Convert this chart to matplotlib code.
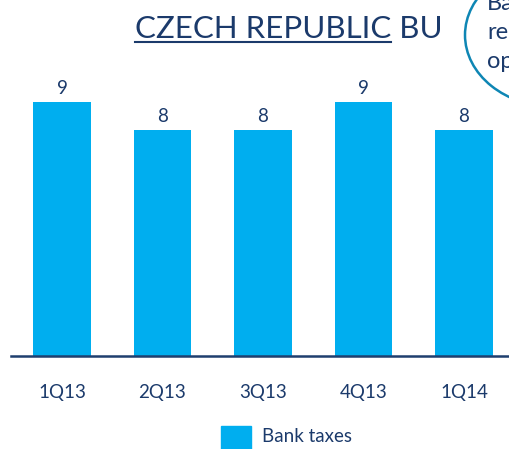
import matplotlib
matplotlib.use("Agg")
import matplotlib.pyplot as plt
from matplotlib.patches import Rectangle, Ellipse
from matplotlib.lines import Line2D

categories = ["1Q13", "2Q13", "3Q13", "4Q13", "1Q14"]
bank_taxes = [9, 8, 8, 9, 8]
series_name = "Bank taxes"
title_main = "CZECH REPUBLIC"
title_rest = " BU"
bubble_lines = ["Ba", "re", "op"]

BAR = "#00AEEF"
NAVY = "#1B3A6B"
W, H = 510, 449
plt.rcParams['font.family'] = ['Lato', 'DejaVu Sans']

fig = plt.figure(figsize=(W / 100, H / 100), dpi=100)
ax = fig.add_axes([11 / W, 1 - 356 / H, (W - 11) / W, 356 / H])
x = range(len(categories))
bars = ax.bar(x, bank_taxes, width=0.57, color=BAR, zorder=2)
ax.set_xlim(-0.507, 4.458)
ax.set_ylim(0, 356 / 28.2)
for b, v in zip(bars, bank_taxes):
    ax.annotate(f"{v}", (b.get_x() + b.get_width() / 2, v), xytext=(0, 4),
                textcoords="offset points", ha="center", va="bottom",
                fontsize=13.5, color=NAVY)
ax.set_xticks(list(x))
ax.set_xticklabels(categories, fontsize=13.5, color=NAVY)
ax.tick_params(axis="x", length=0, pad=20)
ax.set_yticks([])
for s in ["top", "right", "left"]:
    ax.spines[s].set_visible(False)
ax.spines["bottom"].set_color("#1F3F6E")
ax.spines["bottom"].set_linewidth(1.8)
ax.patch.set_alpha(0)

# title with partial underline
t_x, t_y = 135 / W, 1 - 38 / H
t1 = fig.text(t_x, t_y, title_main + title_rest, fontsize=22.5, color=NAVY,
              ha="left", va="baseline")
tm = fig.text(t_x, t_y, title_main, fontsize=22.5, color=NAVY, ha="left",
              va="baseline", alpha=0)
fig.canvas.draw()
ext = tm.get_window_extent()
uy = 1 - 42 / H
fig.add_artist(Line2D([ext.x0 / W, ext.x1 / W], [uy, uy], color=NAVY, lw=1.5,
                      transform=fig.transFigure))

# callout bubble (clipped at edge)
fig.add_artist(Ellipse((555 / W, 1 - 35 / H), 180 / W, 144 / H, fill=False,
                       edgecolor="#0E86B4", lw=1.8, transform=fig.transFigure))
for i, s in enumerate(bubble_lines):
    fig.text(487 / W, 1 - (10 + 29 * i) / H, s, fontsize=17, color=NAVY,
             ha="left", va="baseline")

# legend
fig.add_artist(Rectangle((221 / W, -5 / H), 30 / W, 28 / H, color=BAR,
                         transform=fig.transFigure))
fig.text(262 / W, 1 - 437 / H, series_name, fontsize=13.5, color=NAVY,
         ha="left", va="center")

fig.savefig("out.png", dpi=100)
